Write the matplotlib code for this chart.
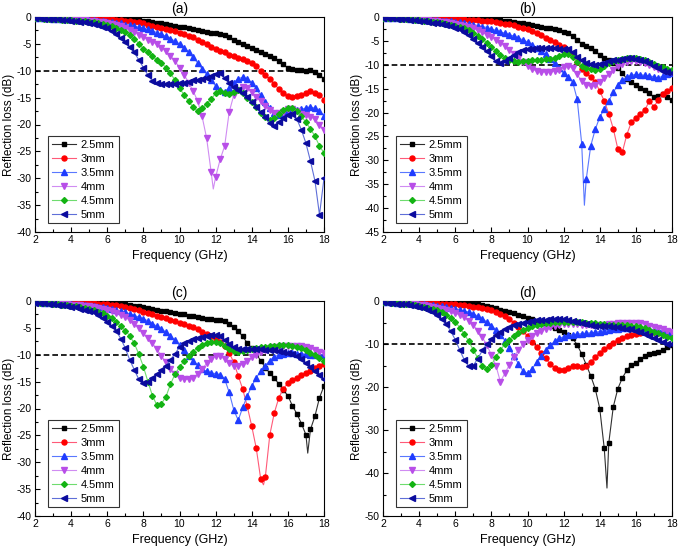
import numpy as np
import matplotlib
matplotlib.use("Agg")
import matplotlib.pyplot as plt
from matplotlib.ticker import MultipleLocator

plt.rcParams['font.family'] = ['Liberation Sans', 'DejaVu Sans']
plt.rcParams['axes.unicode_minus'] = False

# Frequency grid (GHz), one value per marker
freq = np.linspace(2, 18, 65)
labels = ['2.5mm', '3mm', '3.5mm', '4mm', '4.5mm', '5mm']

# ---- panel (a) ----
a_25 = [-0.1, -0.1, -0.1, -0.1, -0.1, -0.1, -0.1, -0.1,
        -0.1, -0.1, -0.1, -0.1, -0.1, -0.1, -0.1, -0.2,
        -0.2, -0.2, -0.2, -0.3, -0.3, -0.3, -0.4, -0.5,
        -0.7, -0.8, -1.0, -1.1, -1.2, -1.3, -1.5, -1.6,
        -1.8, -1.9, -2.1, -2.2, -2.4, -2.6, -2.8, -2.9,
        -3.0, -3.1, -3.4, -3.8, -4.2, -4.6, -5.0, -5.4,
        -5.8, -6.1, -6.5, -6.9, -7.3, -7.7, -8.2, -8.8,
        -9.5, -9.7, -9.8, -9.9, -10.0, -9.9, -10.3, -10.7,
        -11.6]
a_30 = [-0.2, -0.2, -0.2, -0.2, -0.2, -0.2, -0.2, -0.2,
        -0.2, -0.2, -0.3, -0.3, -0.3, -0.3, -0.3, -0.4,
        -0.4, -0.4, -0.5, -0.6, -0.7, -0.8, -0.9, -1.0,
        -1.2, -1.4, -1.6, -1.8, -2.0, -2.2, -2.4, -2.6,
        -2.9, -3.2, -3.5, -3.8, -4.2, -4.6, -5.0, -5.5,
        -5.9, -6.3, -6.6, -7.0, -7.3, -7.6, -7.9, -8.2,
        -8.6, -9.2, -10.0, -10.8, -11.6, -12.5, -13.4, -14.2,
        -14.7, -14.8, -14.7, -14.5, -14.2, -13.8, -14.1, -14.5,
        -15.4]
a_35 = [-0.2, -0.2, -0.2, -0.2, -0.3, -0.3, -0.3, -0.3,
        -0.4, -0.4, -0.5, -0.5, -0.6, -0.6, -0.7, -0.8,
        -0.9, -1.0, -1.1, -1.2, -1.4, -1.5, -1.7, -1.9,
        -2.1, -2.3, -2.6, -2.9, -3.2, -3.6, -4.0, -4.5,
        -5.0, -5.7, -6.5, -7.5, -8.5, -9.6, -10.6, -11.8,
        -12.8, -13.6, -13.9, -13.2, -12.2, -11.5, -11.2, -11.5,
        -12.2, -13.3, -14.6, -15.8, -16.9, -17.8, -18.2, -17.9,
        -17.5, -17.3, -17.3, -17.2, -16.9, -16.7, -17.0, -17.5,
        -18.4]
a_40 = [-0.2, -0.2, -0.2, -0.3, -0.3, -0.3, -0.4, -0.4,
        -0.5, -0.5, -0.6, -0.6, -0.7, -0.8, -0.9, -1.0,
        -1.1, -1.3, -1.5, -1.7, -2.0, -2.4, -2.8, -3.3,
        -3.7, -4.2, -4.6, -5.1, -5.7, -6.4, -7.2, -8.2,
        -9.4, -10.7, -12.2, -13.7, -15.6, -18.5, -22.5, -28.8,
        -29.8, -26.5, -24.0, -17.7, -14.6, -13.5, -13.0, -13.3,
        -14.0, -14.8, -15.7, -16.5, -17.3, -17.8, -17.9, -17.6,
        -17.2, -17.2, -17.5, -18.0, -18.3, -18.6, -19.0, -20.0,
        -21.0]
a_45 = [-0.2, -0.2, -0.3, -0.3, -0.4, -0.4, -0.5, -0.5,
        -0.6, -0.7, -0.7, -0.8, -0.9, -1.0, -1.1, -1.3,
        -1.5, -1.7, -2.0, -2.4, -2.8, -3.3, -4.0, -5.0,
        -5.9, -6.6, -7.3, -8.0, -8.6, -9.4, -10.4, -11.8,
        -13.2, -14.5, -15.6, -16.8, -17.5, -17.0, -16.2, -15.3,
        -14.2, -13.8, -14.2, -14.4, -14.0, -13.6, -14.2, -15.0,
        -15.8, -16.8, -17.8, -18.6, -19.2, -18.8, -18.0, -17.3,
        -17.0, -17.0, -17.5, -18.5, -19.6, -20.8, -22.2, -24.0,
        -25.3]
a_50 = [-0.2, -0.2, -0.3, -0.3, -0.4, -0.4, -0.5, -0.6,
        -0.7, -0.8, -0.9, -1.0, -1.1, -1.3, -1.5, -1.8,
        -2.1, -2.6, -3.2, -3.9, -4.6, -5.6, -6.6, -8.0,
        -9.4, -10.8, -11.9, -12.3, -12.4, -12.5, -12.5, -12.4,
        -12.3, -12.2, -12.0, -11.8, -11.7, -11.6, -11.4, -11.0,
        -10.6, -10.5, -11.3, -12.3, -13.0, -13.6, -14.2, -14.9,
        -15.8, -16.8, -17.7, -18.6, -19.8, -20.2, -19.6, -18.8,
        -18.2, -18.0, -19.0, -21.0, -23.5, -26.8, -30.5, -36.8,
        -30.0]

# ---- panel (b) ----
b_25 = [-0.1, -0.1, -0.1, -0.1, -0.1, -0.1, -0.1, -0.1,
        -0.1, -0.1, -0.1, -0.1, -0.2, -0.2, -0.2, -0.2,
        -0.2, -0.2, -0.2, -0.3, -0.3, -0.3, -0.4, -0.4,
        -0.5, -0.6, -0.7, -0.8, -0.9, -1.0, -1.2, -1.3,
        -1.4, -1.6, -1.8, -2.0, -2.2, -2.4, -2.6, -2.8,
        -3.1, -3.4, -3.9, -4.8, -5.6, -6.0, -6.5, -7.2,
        -7.9, -8.5, -9.0, -9.6, -10.6, -11.8, -12.9, -13.6,
        -14.2, -14.8, -15.3, -15.9, -16.8, -16.5, -16.2, -16.8,
        -17.3]
b_30 = [-0.2, -0.2, -0.2, -0.2, -0.2, -0.2, -0.3, -0.3,
        -0.3, -0.3, -0.3, -0.3, -0.3, -0.4, -0.4, -0.4,
        -0.4, -0.5, -0.5, -0.6, -0.6, -0.7, -0.8, -0.9,
        -0.9, -1.1, -1.2, -1.4, -1.5, -1.7, -2.0, -2.3,
        -2.6, -3.0, -3.4, -3.8, -4.3, -4.8, -5.3, -5.8,
        -6.3, -7.0, -7.9, -9.4, -10.8, -11.8, -12.6, -13.6,
        -15.5, -17.6, -20.2, -23.4, -27.6, -28.3, -24.6, -22.0,
        -21.1, -20.2, -19.4, -17.6, -18.8, -17.3, -16.1, -15.5,
        -14.8]
b_35 = [-0.2, -0.2, -0.2, -0.3, -0.3, -0.3, -0.4, -0.4,
        -0.5, -0.5, -0.6, -0.6, -0.7, -0.8, -0.8, -0.9,
        -1.0, -1.1, -1.3, -1.4, -1.6, -1.8, -2.0, -2.2,
        -2.5, -2.8, -3.1, -3.4, -3.7, -4.0, -4.4, -4.8,
        -5.2, -5.8, -6.5, -7.1, -7.8, -8.7, -9.6, -10.7,
        -11.8, -12.6, -13.6, -17.2, -26.5, -34.0, -27.0, -23.5,
        -21.0, -19.2, -17.5, -15.8, -14.2, -13.2, -12.6, -12.2,
        -12.0, -12.1, -12.2, -12.3, -12.5, -12.8, -12.3, -12.0,
        -11.8]
b_40 = [-0.2, -0.2, -0.3, -0.3, -0.4, -0.4, -0.5, -0.5,
        -0.6, -0.7, -0.7, -0.8, -0.9, -1.0, -1.1, -1.2,
        -1.4, -1.6, -1.8, -2.1, -2.4, -2.8, -3.2, -3.7,
        -4.2, -4.8, -5.4, -6.1, -6.9, -7.7, -8.6, -9.5,
        -10.3, -10.9, -11.3, -11.5, -11.5, -11.5, -11.3, -11.0,
        -10.5, -10.3, -10.7, -12.0, -13.4, -14.2, -14.5, -14.3,
        -13.6, -12.8, -11.9, -11.0, -10.3, -9.8, -9.4, -9.2,
        -9.2, -9.4, -9.7, -10.0, -10.4, -10.8, -11.1, -11.3,
        -11.5]
b_45 = [-0.2, -0.2, -0.3, -0.3, -0.4, -0.4, -0.5, -0.6,
        -0.7, -0.8, -0.9, -1.0, -1.1, -1.3, -1.4, -1.6,
        -1.8, -2.1, -2.4, -2.8, -3.3, -3.9, -4.6, -5.4,
        -6.3, -7.1, -7.9, -8.6, -9.1, -9.3, -9.4, -9.3,
        -9.2, -9.1, -9.0, -8.9, -8.8, -8.7, -8.5, -8.2,
        -7.8, -7.7, -8.3, -9.4, -10.2, -10.6, -10.9, -11.0,
        -10.8, -10.2, -9.6, -9.2, -9.0, -8.8, -8.6, -8.5,
        -8.6, -8.8, -9.1, -9.4, -9.8, -10.2, -10.5, -10.8,
        -11.0]
b_50 = [-0.2, -0.3, -0.3, -0.4, -0.5, -0.5, -0.6, -0.7,
        -0.8, -0.9, -1.0, -1.2, -1.3, -1.5, -1.7, -1.9,
        -2.2, -2.6, -3.2, -3.8, -4.6, -5.4, -6.3, -7.2,
        -8.2, -9.3, -9.6, -9.2, -8.6, -8.0, -7.4, -7.0,
        -6.7, -6.6, -6.5, -6.5, -6.5, -6.5, -6.5, -6.6,
        -6.6, -6.8, -7.4, -8.3, -9.0, -9.6, -9.9, -10.0,
        -9.9, -9.6, -9.3, -9.1, -8.9, -8.7, -8.6, -8.6,
        -8.7, -8.9, -9.3, -9.7, -10.2, -10.7, -11.2, -11.6,
        -11.8]

# ---- panel (c) ----
c_25 = [-0.1, -0.1, -0.1, -0.1, -0.1, -0.1, -0.1, -0.1,
        -0.1, -0.1, -0.1, -0.2, -0.2, -0.2, -0.2, -0.3,
        -0.3, -0.3, -0.4, -0.5, -0.6, -0.7, -0.9, -1.0,
        -1.2, -1.3, -1.5, -1.6, -1.8, -1.9, -2.1, -2.2,
        -2.4, -2.5, -2.7, -2.8, -3.0, -3.1, -3.3, -3.4,
        -3.5, -3.6, -3.8, -4.3, -4.8, -5.6, -6.6, -7.8,
        -8.8, -9.9, -11.1, -12.4, -13.4, -14.4, -15.4, -16.6,
        -17.6, -19.5, -21.0, -22.8, -24.9, -23.9, -21.4, -18.0,
        -15.8]
c_30 = [-0.2, -0.2, -0.2, -0.2, -0.2, -0.2, -0.2, -0.3,
        -0.3, -0.3, -0.3, -0.3, -0.4, -0.4, -0.5, -0.5,
        -0.6, -0.7, -0.8, -0.9, -1.1, -1.3, -1.5, -1.7,
        -2.0, -2.2, -2.5, -2.7, -3.0, -3.2, -3.5, -3.7,
        -4.0, -4.3, -4.6, -4.9, -5.3, -5.7, -6.2, -6.6,
        -7.0, -7.6, -8.4, -9.6, -11.4, -13.9, -16.4, -19.6,
        -23.3, -27.4, -33.2, -32.8, -24.9, -20.8, -18.0, -16.3,
        -15.3, -14.7, -14.3, -13.8, -13.4, -13.0, -12.5, -12.0,
        -11.8]
c_35 = [-0.2, -0.2, -0.3, -0.3, -0.4, -0.4, -0.5, -0.5,
        -0.6, -0.7, -0.8, -0.8, -0.9, -1.0, -1.1, -1.2,
        -1.3, -1.5, -1.7, -1.9, -2.1, -2.4, -2.7, -3.0,
        -3.3, -3.7, -4.2, -4.7, -5.2, -5.8, -6.5, -7.3,
        -8.2, -9.2, -10.2, -11.1, -11.9, -12.6, -13.1, -13.4,
        -13.5, -13.7, -14.5, -17.0, -20.2, -22.2, -19.8, -17.7,
        -15.8, -14.3, -13.0, -12.0, -11.1, -10.4, -10.0, -9.8,
        -9.7, -9.7, -9.8, -9.8, -9.9, -10.0, -10.0, -10.0,
        -10.0]
c_40 = [-0.2, -0.2, -0.3, -0.3, -0.4, -0.4, -0.5, -0.6,
        -0.7, -0.7, -0.8, -0.9, -1.0, -1.2, -1.3, -1.5,
        -1.7, -1.9, -2.2, -2.6, -3.0, -3.6, -4.3, -5.1,
        -6.0, -6.9, -7.9, -9.0, -10.2, -11.4, -12.6, -13.6,
        -14.3, -14.6, -14.6, -14.3, -13.6, -12.7, -11.6, -10.7,
        -10.2, -10.3, -10.8, -11.5, -12.0, -12.1, -11.8, -11.2,
        -10.5, -10.0, -9.5, -9.1, -8.8, -8.6, -8.5, -8.4,
        -8.3, -8.3, -8.3, -8.4, -8.6, -8.8, -9.1, -9.4,
        -9.7]
c_45 = [-0.2, -0.3, -0.3, -0.4, -0.5, -0.6, -0.7, -0.8,
        -0.9, -1.0, -1.2, -1.3, -1.5, -1.7, -2.0, -2.3,
        -2.7, -3.2, -3.9, -4.7, -5.5, -6.5, -7.9, -9.9,
        -12.2, -15.0, -17.6, -19.4, -19.1, -17.8, -15.5, -13.6,
        -12.3, -11.2, -10.2, -9.4, -8.7, -8.2, -7.8, -7.6,
        -7.6, -7.8, -8.3, -8.9, -9.3, -9.4, -9.3, -9.1,
        -8.9, -8.7, -8.6, -8.5, -8.4, -8.3, -8.2, -8.1,
        -8.1, -8.3, -8.5, -8.8, -9.2, -9.6, -10.1, -10.6,
        -11.2]
c_50 = [-0.3, -0.3, -0.4, -0.5, -0.6, -0.7, -0.8, -0.9,
        -1.1, -1.2, -1.4, -1.6, -1.8, -2.1, -2.6, -3.2,
        -3.9, -4.7, -5.6, -7.0, -8.8, -11.0, -12.8, -14.6,
        -15.2, -15.0, -14.4, -13.6, -12.8, -12.0, -11.0, -9.8,
        -8.6, -7.9, -7.4, -7.1, -6.9, -6.7, -6.5, -6.4,
        -6.3, -6.5, -7.2, -8.0, -8.6, -8.9, -9.0, -9.0,
        -9.0, -9.0, -9.0, -9.1, -9.1, -9.2, -9.3, -9.4,
        -9.6, -9.8, -10.2, -10.8, -11.5, -12.3, -13.0, -13.8,
        -14.5]

# ---- panel (d) ----
d_25 = [-0.1, -0.1, -0.1, -0.1, -0.1, -0.1, -0.1, -0.1,
        -0.1, -0.1, -0.1, -0.1, -0.1, -0.1, -0.2, -0.2,
        -0.2, -0.3, -0.4, -0.5, -0.7, -0.8, -1.0, -1.2,
        -1.5, -1.7, -2.0, -2.3, -2.6, -2.9, -3.2, -3.5,
        -3.9, -4.2, -4.6, -5.0, -5.4, -5.8, -6.3, -6.7,
        -7.2, -7.8, -8.7, -10.2, -12.3, -14.8, -17.4, -20.4,
        -25.0, -34.3, -33.0, -24.6, -20.4, -17.9, -16.1, -14.8,
        -14.4, -13.6, -12.8, -12.3, -12.0, -11.9, -11.3, -10.8,
        -10.3]
d_30 = [-0.2, -0.2, -0.2, -0.2, -0.3, -0.3, -0.3, -0.3,
        -0.4, -0.4, -0.4, -0.5, -0.5, -0.6, -0.6, -0.7,
        -0.8, -0.9, -1.0, -1.1, -1.3, -1.5, -1.7, -1.9,
        -2.2, -2.6, -3.0, -3.5, -4.2, -5.0, -6.0, -7.0,
        -8.2, -9.5, -10.8, -12.0, -13.3, -14.6, -15.6, -16.0,
        -16.0, -15.5, -15.0, -15.2, -15.3, -15.0, -14.2, -13.0,
        -12.0, -11.2, -10.4, -9.7, -9.0, -8.6, -8.2, -7.9,
        -7.6, -7.4, -7.3, -7.3, -7.3, -7.4, -7.5, -7.7,
        -7.9]
d_35 = [-0.2, -0.3, -0.3, -0.4, -0.4, -0.5, -0.5, -0.6,
        -0.7, -0.8, -0.9, -1.0, -1.1, -1.2, -1.4, -1.6,
        -1.8, -2.0, -2.3, -2.6, -3.0, -3.5, -4.1, -4.9,
        -5.7, -6.7, -7.8, -9.2, -10.9, -12.8, -14.6, -16.3,
        -16.8, -15.8, -14.3, -12.8, -11.4, -10.3, -9.4, -8.7,
        -8.3, -8.0, -7.8, -7.7, -7.6, -7.5, -7.4, -7.3,
        -7.1, -6.9, -6.7, -6.5, -6.4, -6.3, -6.3, -6.3,
        -6.3, -6.4, -6.5, -6.6, -6.7, -6.8, -7.0, -7.2,
        -7.3]
d_40 = [-0.2, -0.3, -0.3, -0.4, -0.5, -0.6, -0.7, -0.8,
        -0.9, -1.0, -1.2, -1.4, -1.6, -1.8, -2.1, -2.4,
        -2.8, -3.2, -3.8, -4.6, -5.6, -6.9, -8.4, -10.3,
        -12.5, -15.0, -18.8, -16.8, -14.8, -13.0, -11.3, -10.0,
        -9.0, -8.2, -7.5, -6.9, -6.4, -6.0, -5.7, -5.5,
        -5.4, -5.3, -5.3, -5.4, -5.5, -5.6, -5.6, -5.6,
        -5.6, -5.5, -5.4, -5.3, -5.2, -5.1, -5.0, -5.0,
        -5.0, -5.2, -5.4, -5.7, -6.0, -6.3, -6.6, -6.9,
        -7.2]
d_45 = [-0.2, -0.3, -0.4, -0.5, -0.6, -0.7, -0.8, -0.9,
        -1.1, -1.3, -1.6, -1.9, -2.2, -2.6, -3.2, -3.9,
        -4.8, -6.2, -7.7, -9.4, -11.4, -13.3, -15.1, -15.8,
        -14.9, -13.0, -11.4, -10.0, -9.0, -8.1, -7.4, -6.8,
        -6.3, -5.9, -5.6, -5.3, -5.1, -5.0, -4.9, -4.8,
        -4.8, -4.8, -4.8, -4.8, -4.9, -5.0, -5.1, -5.2,
        -5.3, -5.4, -5.5, -5.5, -5.5, -5.5, -5.6, -5.7,
        -5.8, -6.0, -6.3, -6.7, -7.1, -7.5, -7.9, -8.3,
        -8.7]
d_50 = [-0.3, -0.4, -0.5, -0.6, -0.7, -0.8, -1.0, -1.2,
        -1.4, -1.7, -2.1, -2.6, -3.3, -4.2, -5.4, -7.0,
        -9.0, -11.4, -13.7, -15.2, -15.0, -13.4, -11.5, -10.0,
        -8.8, -7.9, -7.1, -6.5, -6.0, -5.6, -5.3, -5.0,
        -4.8, -4.6, -4.5, -4.4, -4.4, -4.3, -4.3, -4.3,
        -4.3, -4.4, -4.6, -4.9, -5.2, -5.4, -5.6, -5.7,
        -5.8, -5.9, -5.9, -6.0, -6.1, -6.2, -6.4, -6.6,
        -6.9, -7.2, -7.6, -8.1, -8.6, -9.1, -9.6, -9.9,
        -10.1]

# sharp minima reached by the line between two markers: (series index, GHz, dB)
a_dips = [(3, 11.87, -32.0)]
b_dips = [(2, 13.15, -39.4)]
c_dips = [(0, 17.1, -28.3), (1, 14.65, -34.2)]
d_dips = [(0, 14.4, -43.5)]

marker_colors = ['#000000', '#ff0000', '#1f3cff', '#b84ee8', '#13b313', '#0b0b9e']
line_colors = ['#303030', '#ff5a78', '#5a78ff', '#d08cf2', '#6fdc6f', '#5f6fd8']
markers = ['s', 'o', '^', 'v', 'D', '<']
msizes = [3.3, 3.6, 4.0, 4.0, 3.0, 4.0]

W, H = 679, 550
fig = plt.figure(figsize=(W / 100, H / 100), dpi=100)

panels = [
    ('(a)', [a_25, a_30, a_35, a_40, a_45, a_50], a_dips, -40, 5, 2.5, (35, 17, 324, 232)),
    ('(b)', [b_25, b_30, b_35, b_40, b_45, b_50], b_dips, -45, 5, 2.5, (383, 17, 672, 232)),
    ('(c)', [c_25, c_30, c_35, c_40, c_45, c_50], c_dips, -40, 5, 2.5, (35, 301, 324, 516)),
    ('(d)', [d_25, d_30, d_35, d_40, d_45, d_50], d_dips, -50, 10, 5, (383, 301, 672, 516)),
]

for title, series, dips, ymin, ymaj, ymin_step, (x0, y0, x1, y1) in panels:
    ax = fig.add_axes([x0 / W, 1 - y1 / H, (x1 - x0) / W, (y1 - y0) / H])
    ax.axhline(-10, color='k', lw=1.2, ls=(0, (3.4, 1.8)), zorder=1)
    for k, y in enumerate(series):
        xs = list(freq)
        ys = list(y)
        keep = list(range(len(xs)))
        for s, dx, dy in dips:
            if s == k:
                pos = int(np.searchsorted(xs, dx))
                xs.insert(pos, dx)
                ys.insert(pos, dy)
                keep = [i for i in range(len(xs)) if i != pos]
        ax.plot(xs, ys, color=line_colors[k], lw=0.8, marker=markers[k],
                ms=msizes[k], mfc=marker_colors[k], mec=marker_colors[k],
                markevery=keep, label=labels[k], zorder=2 + k)
    ax.set_xlim(2, 18)
    ax.set_ylim(ymin, 0)
    ax.xaxis.set_major_locator(MultipleLocator(2))
    ax.xaxis.set_minor_locator(MultipleLocator(1))
    ax.yaxis.set_major_locator(MultipleLocator(ymaj))
    ax.yaxis.set_minor_locator(MultipleLocator(ymin_step))
    ax.tick_params(which='both', direction='in', top=False, right=False,
                   labelsize=7.5, width=0.8, pad=2.5)
    ax.tick_params(which='major', length=3.5)
    ax.tick_params(which='minor', length=2)
    for sp in ax.spines.values():
        sp.set_linewidth(0.8)
    ax.set_xlabel('Frequency (GHz)', fontsize=9, labelpad=3)
    ax.set_ylabel('Reflection loss (dB)', fontsize=8.5, labelpad=1)
    ax.set_title(title, fontsize=10, pad=3)
    leg = ax.legend(loc='lower left', bbox_to_anchor=(0.045, 0.04), fontsize=8,
                    frameon=True, fancybox=False, edgecolor='black',
                    handlelength=2.2, labelspacing=0.35, borderpad=0.35,
                    handletextpad=0.4, borderaxespad=0)
    leg.get_frame().set_linewidth(0.8)

fig.savefig('out.png', dpi=100)
